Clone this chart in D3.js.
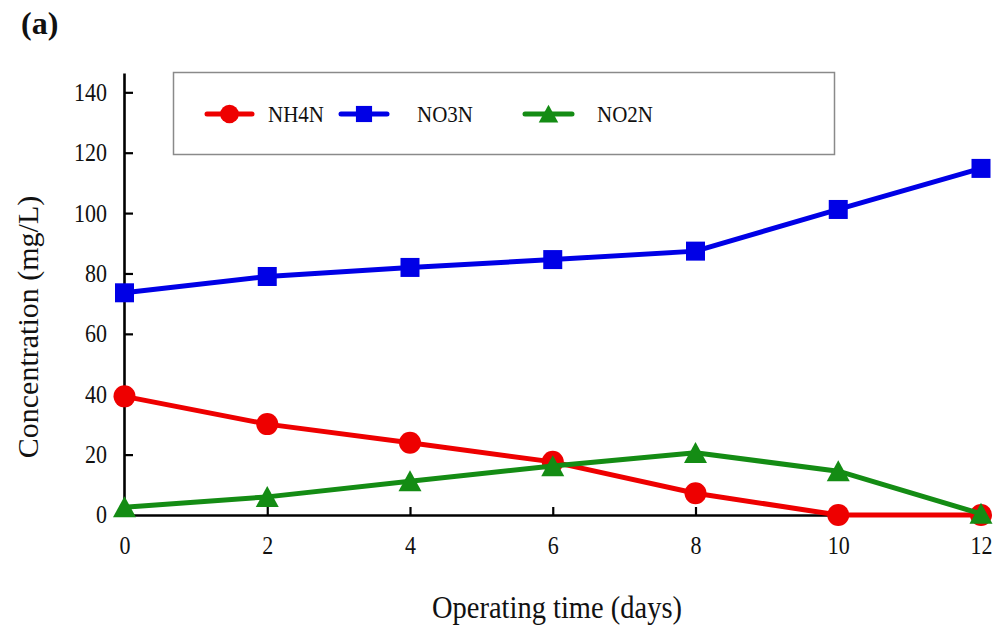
<!DOCTYPE html>
<html>
<head>
<meta charset="utf-8">
<script src="https://cdn.jsdelivr.net/npm/d3@7"></script>
<style>
  html, body { margin: 0; padding: 0; background: #fff; }
  svg { display: block; }
  text { font-family: "Liberation Serif", "Times New Roman", serif; fill: #111; }
  .tall { transform-box: fill-box; transform-origin: center; transform: scaleY(1.12); }
</style>
</head>
<body>
<svg id="chart" width="997" height="628"></svg>
<script>
// Operating time (days)
const days = [0, 2, 4, 6, 8, 10, 12];
// Concentrations in mg/L
const nh4n = [39.3, 30.1, 23.9, 17.6, 7.2, 0, 0];
const no3n = [73.6, 79.0, 82.0, 84.6, 87.4, 101.2, 114.8];
const no2n = [2.6, 6.0, 11.2, 16.2, 20.6, 14.5, 0.4];
const yTicks = [0, 20, 40, 60, 80, 100, 120, 140];
const xTicks = [0, 2, 4, 6, 8, 10, 12];

const series = [
  { name: "NH4N", values: nh4n, color: "#ee0000", shape: "circle" },
  { name: "NO3N", values: no3n, color: "#0000e6", shape: "square" },
  { name: "NO2N", values: no2n, color: "#148c14", shape: "triangle" }
];

const svg = d3.select("#chart");

const x = d3.scaleLinear().domain([0, 12]).range([124.5, 981]);
const y = d3.scaleLinear().domain([0, 146.4]).range([515, 73]);

// Axes with inward ticks
const xAxis = d3.axisBottom(x).tickValues(xTicks).tickSizeInner(-8).tickSizeOuter(0).tickPadding(22);
const yAxis = d3.axisLeft(y).tickValues(yTicks).tickSizeInner(-9).tickSizeOuter(0).tickPadding(17);

const gx = svg.append("g").attr("transform", `translate(0,${y(0)})`).call(xAxis);
const gy = svg.append("g").attr("transform", `translate(${x(0) - 0.5},0)`).call(yAxis);

[gx, gy].forEach(g => {
  g.select(".domain").attr("stroke", "#000").attr("stroke-width", 2.6);
  g.selectAll(".tick line").attr("stroke", "#000").attr("stroke-width", 2.2);
  g.selectAll(".tick text")
    .attr("class", "tall")
    .style("font-family", '"Liberation Serif", "Times New Roman", serif')
    .style("font-size", "22px")
    .attr("fill", "#222");
});

// Marker drawing
function drawMarker(g, shape, cx, cy, color, scale = 1) {
  if (shape === "circle") {
    g.append("circle").attr("cx", cx).attr("cy", cy).attr("r", 11 * scale).attr("fill", color);
  } else if (shape === "square") {
    const s = 19 * scale;
    g.append("rect").attr("x", cx - s / 2).attr("y", cy - s / 2).attr("width", s).attr("height", s).attr("fill", color);
  } else {
    const w = 23 * scale, h = 21 * scale;
    g.append("path")
      .attr("d", `M${cx},${cy - h * 0.52} L${cx + w / 2},${cy + h * 0.48} L${cx - w / 2},${cy + h * 0.48} Z`)
      .attr("fill", color);
  }
}

const line = d3.line().x(d => x(d[0])).y(d => y(d[1]));

const plot = svg.append("g");
series.forEach(s => {
  const pts = days.map((d, i) => [d, s.values[i]]);
  const g = plot.append("g");
  g.append("path").attr("d", line(pts)).attr("fill", "none")
    .attr("stroke", s.color).attr("stroke-width", 5).attr("stroke-linejoin", "round");
  pts.forEach(p => drawMarker(g, s.shape, x(p[0]), y(p[1]), s.color));
});

// Legend
const legend = svg.append("g");
legend.append("rect").attr("x", 173.5).attr("y", 72.5).attr("width", 661).attr("height", 82)
  .attr("fill", "#fff").attr("stroke", "#8a8a8a").attr("stroke-width", 1.5);
const legendItems = [
  { x0: 207, x1: 252, tx: 268 },
  { x0: 341, x1: 387, tx: 417 },
  { x0: 525, x1: 572, tx: 597 }
];
series.forEach((s, i) => {
  const it = legendItems[i];
  const ly = 114;
  legend.append("line").attr("x1", it.x0).attr("x2", it.x1).attr("y1", ly).attr("y2", ly)
    .attr("stroke", s.color).attr("stroke-width", 5).attr("stroke-linecap", "round");
  drawMarker(legend, s.shape, (it.x0 + it.x1) / 2, ly, s.color, 0.85);
  legend.append("text").attr("class", "tall").attr("x", it.tx).attr("y", ly + 7.5)
    .style("font-size", "21px").text(s.name);
});

// Axis titles
svg.append("text")
  .attr("transform", `translate(38,${327}) rotate(-90)`)
  .attr("text-anchor", "middle")
  .style("font-size", "30px")
  .text("Concentration (mg/L)");

svg.append("text")
  .attr("class", "tall")
  .attr("x", 557).attr("y", 617)
  .attr("text-anchor", "middle")
  .style("font-size", "28.5px")
  .text("Operating time (days)");

// Panel label
svg.append("text")
  .attr("x", 21).attr("y", 34)
  .style("font-size", "32px").style("font-weight", "bold")
  .text("(a)");
</script>
</body>
</html>
